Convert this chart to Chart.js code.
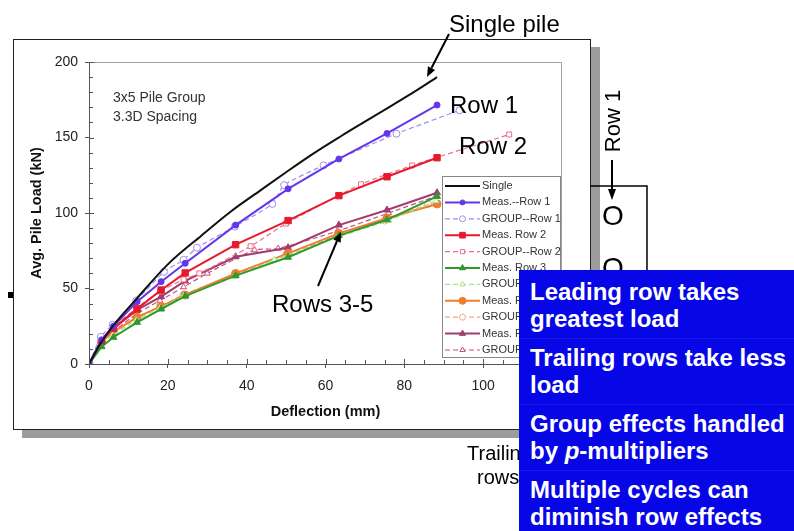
<!DOCTYPE html>
<html>
<head>
<meta charset="utf-8">
<script src="https://cdn.jsdelivr.net/npm/chart.js@4.4.1/dist/chart.umd.min.js"></script>
<style>
  body { margin: 0; width: 794px; height: 531px; overflow: hidden; background: #fff; position: relative;
         font-family: "Liberation Sans", Arial, sans-serif; }
  .abs { position: absolute; }
  #frame { left: 13px; top: 39px; width: 576px; height: 389px; border: 1px solid #222; background: #fff;
           box-shadow: 9px 8px 0 #9c9c9c; z-index: 0; }
  #chart { left: 0; top: 0; z-index: 1; }
  #notes { left: 0; top: 0; z-index: 2; }
  #box { left: 519px; top: 270px; width: 264px; height: 258px; padding: 3px 0 0 11px; background: #0606e6;
         color: #fff; font-weight: bold; font-size: 24px; line-height: 27px; white-space: nowrap; z-index: 3; }
  #box p { margin: 0 0 0 -11px; padding: 5px 0 6px 11px; }
  #box p + p { border-top: 1px solid #1818e8; }
</style>
</head>
<body>
<div id="frame" class="abs"></div>
<canvas id="chart" class="abs" width="794" height="531"></canvas>

<svg id="notes" class="abs" width="794" height="531" font-family="Liberation Sans, Arial, sans-serif">
  <text x="449" y="32" font-size="24">Single pile</text>
  <line x1="449" y1="34" x2="431.5" y2="68" stroke="#000" stroke-width="2"/>
  <polygon points="427,77 435.1,69.9 427.9,66.3" fill="#000"/>
  <text x="450" y="113" font-size="24">Row 1</text>
  <text x="459" y="154" font-size="24">Row 2</text>
  <text x="272" y="312" font-size="24">Rows 3-5</text>
  <line x1="318" y1="286" x2="337" y2="241" stroke="#000" stroke-width="2"/>
  <polygon points="341,232 340.7,242.8 333.3,239.6" fill="#000"/>
  <text x="113" y="102" font-size="14" fill="#333">3x5 Pile Group</text>
  <text x="113" y="121" font-size="14" fill="#333">3.3D Spacing</text>
  <text x="467" y="460" font-size="20">Trailing</text>
  <text x="477" y="484" font-size="20">rows</text>
  <text x="612" y="121" font-size="22" text-anchor="middle" dominant-baseline="central" transform="rotate(-90 612 121)">Row 1</text>
  <line x1="612" y1="160" x2="612" y2="190" stroke="#000" stroke-width="2"/>
  <polygon points="612,200 608,189 616,189" fill="#000"/>
  <polyline points="590,186 647,186 647,531" fill="none" stroke="#000" stroke-width="1.5"/>
  <text x="613" y="225" font-size="28" text-anchor="middle">O</text>
  <text x="613" y="277" font-size="28" text-anchor="middle">O</text>
  <rect x="8" y="292" width="5" height="6" fill="#000"/>
</svg>

<div id="box" class="abs">
  <p>Leading row takes<br>greatest load</p>
  <p>Trailing rows take less<br>load</p>
  <p>Group effects handled<br>by <i>p</i>-multipliers</p>
  <p>Multiple cycles can<br>diminish row effects</p>
</div>

<script>
// axis ticks
const xTicks = [0, 20, 40, 60, 80, 100, 120];
const yTicks = [0, 50, 100, 150, 200];

// single pile curve
const singleX = [0, 3, 6, 12, 20, 28.5, 36, 43.5, 50, 57, 64, 70, 77, 83, 88.3];
const singleY = [0, 14, 25, 43, 66, 85, 101, 115, 127, 139.5, 151, 160.5, 171.5, 181, 190];

// measured loads, all rows share the same deflection steps
const measX = [0, 3.2, 6.2, 12.2, 18.3, 24.4, 37.2, 50.5, 63.4, 75.6, 88.3];
const meas1 = [0, 16, 25, 41.3, 54.5, 66.7, 92, 116, 135.8, 152.7, 171.5];
const meas2 = [0, 15.5, 23.6, 36.5, 49, 60.3, 79, 95, 111.5, 124, 136.6];
const meas3 = [0, 11.5, 17.7, 27.6, 36.4, 45, 58.5, 70.7, 85, 95.5, 111];
const meas4 = [0, 14.5, 21.4, 31, 38.2, 45.7, 60, 73.3, 86.5, 96.5, 106];
const meas5 = [0, 15.3, 23.6, 35.8, 44.6, 55, 71, 77, 92, 102, 113.4];

// GROUP predictions
const group1X = [0, 3, 6, 12, 19, 24, 27.4, 37, 46.5, 49.5, 59.5, 78, 94];
const group1Y = [0, 18, 26, 42, 61, 69, 77, 91, 106, 118.5, 131.5, 152.5, 168];
const group2X = [0, 3, 6, 12, 18, 24, 28, 41, 50, 69, 82, 106.6];
const group2Y = [0, 16, 24, 37, 48, 56, 60, 78, 93, 119, 131.5, 152];
const group3X = [0, 3, 6, 12, 18, 24, 37, 47, 63, 76, 88];
const group3Y = [0, 13, 19, 29, 37, 45, 58, 69, 84, 95, 108];
const group4X = [0, 3, 6, 12, 18, 24, 37, 50, 63, 75, 86];
const group4Y = [0, 14, 20, 30, 38, 46, 59, 72, 85, 95, 106];
const group5X = [0, 3, 6, 12, 18, 24, 30, 42, 48, 63, 76, 88];
const group5Y = [0, 14, 21, 33, 42, 51, 60, 75.5, 76.5, 88, 100, 111];

const labels = ['Single', 'Meas.--Row 1', 'GROUP--Row 1', 'Meas. Row 2', 'GROUP--Row 2', 'Meas. Row 3',
                'GROUP--Row 3', 'Meas. Row 4', 'GROUP--Row 4', 'Meas. Row 5', 'GROUP--Row 5'];
const colors = ['#111111', '#6435ec', '#9c90f0', '#e8192c', '#e8708a', '#2e9a2e',
                '#a4e488', '#f07c30', '#f4a77c', '#a23c6e', '#c8507a'];

function pts(xs, ys) {
    return xs.map((x, i) => ({ x: x, y: ys[i] }));
}

function meas(i, ys, style, r) {
    return {
        label: labels[i], data: pts(measX, ys),
        borderColor: colors[i], backgroundColor: colors[i], borderWidth: 2,
        pointStyle: style, pointRadius: r, pointBackgroundColor: colors[i],
        pointBorderColor: colors[i], pointBorderWidth: 1, tension: 0
    };
}

function group(i, xs, ys, style) {
    return {
        label: labels[i], data: pts(xs, ys),
        borderColor: colors[i], backgroundColor: '#fff', borderWidth: 1.2, borderDash: [5, 3],
        pointStyle: style, pointRadius: 3.5, pointBackgroundColor: '#fff',
        pointBorderColor: colors[i], pointBorderWidth: 1, tension: 0.2
    };
}

const datasets = [
    { label: labels[0], data: pts(singleX, singleY), borderColor: colors[0], backgroundColor: colors[0],
      borderWidth: 2, pointRadius: 0, cubicInterpolationMode: 'monotone' },
    meas(1, meas1, 'circle', 3),
    group(2, group1X, group1Y, 'circle'),
    meas(3, meas2, 'rect', 4.5),
    group(4, group2X, group2Y, 'rect'),
    meas(5, meas3, 'triangle', 4),
    group(6, group3X, group3Y, 'triangle'),
    meas(7, meas4, 'circle', 4),
    group(8, group4X, group4Y, 'circle'),
    meas(9, meas5, 'triangle', 4),
    group(10, group5X, group5Y, 'triangle')
];

// plot border, minor ticks and the boxed legend
const extras = {
    id: 'extras',
    afterDraw(chart) {
        const { ctx, chartArea: a, scales: { x, y } } = chart;
        ctx.save();
        ctx.lineWidth = 1;
        ctx.strokeStyle = '#a0a0a0';
        ctx.beginPath();
        ctx.moveTo(a.left, a.top + 0.5);
        ctx.lineTo(a.right - 0.5, a.top + 0.5);
        ctx.lineTo(a.right - 0.5, a.bottom);
        ctx.stroke();

        ctx.strokeStyle = '#555';
        ctx.beginPath();
        for (let v = 0; v <= 120; v += 5) {
            const px = Math.round(x.getPixelForValue(v)) + 0.5;
            ctx.moveTo(px, a.bottom);
            ctx.lineTo(px, a.bottom - (v % 20 === 0 ? 5 : 4));
        }
        for (let v = 0; v <= 200; v += 10) {
            const py = Math.round(y.getPixelForValue(v)) + 0.5;
            ctx.moveTo(a.left, py);
            ctx.lineTo(a.left + (v % 50 === 0 ? 5 : 4), py);
        }
        ctx.stroke();

        // legend
        const lx = a.left + 353, ly = a.top + 114;
        ctx.fillStyle = '#fff';
        ctx.fillRect(lx, ly, 118, 181);
        ctx.strokeStyle = '#888';
        ctx.strokeRect(lx + 0.5, ly + 0.5, 118, 181);
        ctx.font = '11px "Liberation Sans", Arial, sans-serif';
        ctx.textBaseline = 'middle';
        chart.data.datasets.forEach((ds, i) => {
            const yy = ly + 10 + i * 16.4;
            ctx.setLineDash(ds.borderDash || []);
            ctx.strokeStyle = ds.borderColor;
            ctx.lineWidth = ds.borderWidth;
            ctx.beginPath();
            ctx.moveTo(lx + 3, yy);
            ctx.lineTo(lx + 38, yy);
            ctx.stroke();
            ctx.setLineDash([]);
            if (ds.pointRadius > 0) {
                ctx.fillStyle = ds.pointBackgroundColor;
                ctx.strokeStyle = ds.pointBorderColor;
                ctx.lineWidth = 1;
                Chart.helpers.drawPoint(ctx, { pointStyle: ds.pointStyle, radius: ds.pointRadius - 0.5,
                                               rotation: 0, borderWidth: 1 }, lx + 20.5, yy);
            }
            ctx.fillStyle = '#333';
            ctx.fillText(ds.label, lx + 40, yy);
        });
        ctx.restore();
    }
};

const axisFont = { family: '"Liberation Sans", Arial, sans-serif', size: 14 };
const titleFont = { family: '"Liberation Sans", Arial, sans-serif', size: 14.5, weight: 'bold' };

new Chart(document.getElementById('chart'), {
    type: 'line',
    data: { datasets: datasets },
    options: {
        responsive: false,
        animation: false,
        events: [],
        layout: { padding: { left: 14, top: 62, right: 232, bottom: 102 } },
        plugins: { legend: { display: false }, tooltip: { enabled: false } },
        scales: {
            x: {
                type: 'linear', min: 0, max: 120,
                afterBuildTicks: s => { s.ticks = xTicks.map(v => ({ value: v })); },
                afterFit: s => { s.height = 65; },
                grid: { drawOnChartArea: false, tickLength: 4, color: '#555' },
                border: { color: '#555', width: 1 },
                ticks: { padding: 10, color: '#222', font: axisFont, maxRotation: 0, autoSkip: false },
                title: { display: true, text: 'Deflection (mm)', color: '#111', font: titleFont,
                         padding: { top: 0, bottom: 8 } }
            },
            y: {
                type: 'linear', min: 0, max: 200,
                afterBuildTicks: s => { s.ticks = yTicks.map(v => ({ value: v })); },
                afterFit: s => { s.width = 75; },
                grid: { drawOnChartArea: false, tickLength: 4, color: '#555' },
                border: { color: '#555', width: 1 },
                ticks: { padding: 7, color: '#222', font: axisFont },
                title: { display: true, text: 'Avg. Pile Load (kN)', color: '#111', font: titleFont,
                         padding: { top: 14, bottom: 0 } }
            }
        }
    },
    plugins: [extras]
});
</script>
</body>
</html>
